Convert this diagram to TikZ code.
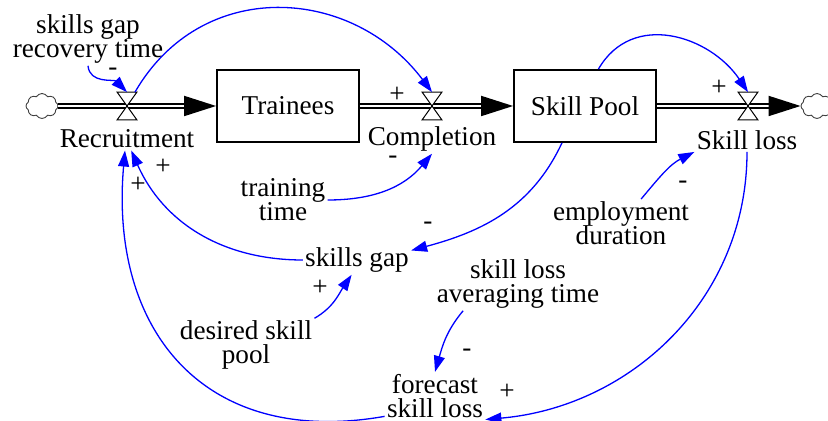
\documentclass[tikz,border=0pt]{standalone}
\usepackage{fontspec}
\setmainfont{Liberation Serif}
\usetikzlibrary{arrows.meta,shapes.symbols}
\setlength{\lineskiplimit}{-\maxdimen}

\begin{document}
\begin{tikzpicture}[x=0.5pt,y=0.5pt,
    font=\fontsize{13.6}{12}\selectfont,
    every node/.style={inner sep=1pt,align=center},
    stock/.style={draw,line width=0.9pt,minimum width=71pt,minimum height=36pt,inner sep=0pt},
    valve/.style={minimum width=9.5pt,minimum height=13.5pt,inner sep=0pt},
    source/.style={cloud,cloud puffs=8,cloud puff arc=120,aspect=1.3,draw=black!75,line width=0.45pt,
      minimum width=16pt,minimum height=12.5pt,inner sep=0pt},
    pipe/.style={draw,line width=0.9pt,double=white,double distance=1.3pt,
      -{Triangle[length=16pt,width=10pt]}},
    link/.style={blue,line width=0.65pt,-{Triangle[length=8pt,width=5.5pt]}},
    sign/.style={inner sep=0pt}]
  \useasboundingbox (0,0) rectangle (828,-421);
  \draw
    (42,-106) node[source] (cloudin){}
    (127,-106) node[valve] (recruitmentvalve){}
    (127,-139) node (recruitment){Recruitment}
    (288,-106) node[stock] (trainees){Trainees}
    (432,-106) node[valve] (completionvalve){}
    (432,-139) node (completion){Completion}
    (585,-106) node[stock] (skillpool){Skill Pool}
    (748,-106) node[valve] (skilllossvalve){}
    (747,-140) node (skillloss){Skill loss}
    (817,-106) node[source] (cloudout){}
    (88,-39) node (skillsgaprecoverytime){skills gap\\recovery time}
    (283,-200) node (trainingtime){training\\time}
    (357,-260) node (skillsgap){skills gap}
    (246,-345) node (desiredskillpool){desired skill\\pool}
    (621,-223) node (employmentduration){employment\\duration}
    (518,-284) node (skilllossaveragingtime){skill loss\\averaging time}
    (435,-396) node (forecastskillloss){forecast\\skill loss};
  % pipes
  \draw[pipe] (cloudin) -- (trainees);
  \draw[pipe] (trainees) -- (skillpool);
  \draw[pipe] (skillpool) -- (cloudout);
  \foreach \v in {recruitmentvalve,completionvalve,skilllossvalve}
    \draw[fill=white,line width=0.5pt] (\v.north west) -- (\v.north east)
      -- (\v.south west) -- (\v.south east) -- cycle;
  % links
  \begin{scope}[link]
    \draw (skillsgaprecoverytime.south) to[out=-85,in=135] (recruitmentvalve.north);
    \draw (recruitmentvalve) to[out=60,in=127,looseness=1.15] (completionvalve.north);
    \draw (trainingtime.east) to[out=0,in=-130] (completion.south);
    \draw (skillpool.-122) to[out=-115,in=15] (skillsgap.10);
    \draw (skillsgap.west) to[out=180,in=-66] (recruitment.-70);
    \draw (forecastskillloss.-158) to[out=190,in=-95,looseness=1.25] (recruitment.-100);
    \draw (desiredskillpool.north east) to[out=30,in=-124] (skillsgap.-110);
    \draw (employmentduration.50) to[out=50,in=-153] (skillloss.south west);
    \draw (skillloss.south) to[out=-90,in=5] (forecastskillloss.-25);
    \draw (skilllossaveragingtime.-154) to[out=-130,in=74] (forecastskillloss.north);
    \draw (skillpool.70) to[out=60,in=124,looseness=1.15] (skilllossvalve.north);
  \end{scope}
  % polarities
  \foreach \x/\y/\s [count=\i] in {113/72/-,397/95/+,393/160/-,428/226/-,163/167/+,
      138/185/+,320/288/+,683/185/-,507/392/+,467/353/-,719/88/+}
    \node[sign] (sign\i) at (\x,-\y) {\s};
\end{tikzpicture}
\end{document}
